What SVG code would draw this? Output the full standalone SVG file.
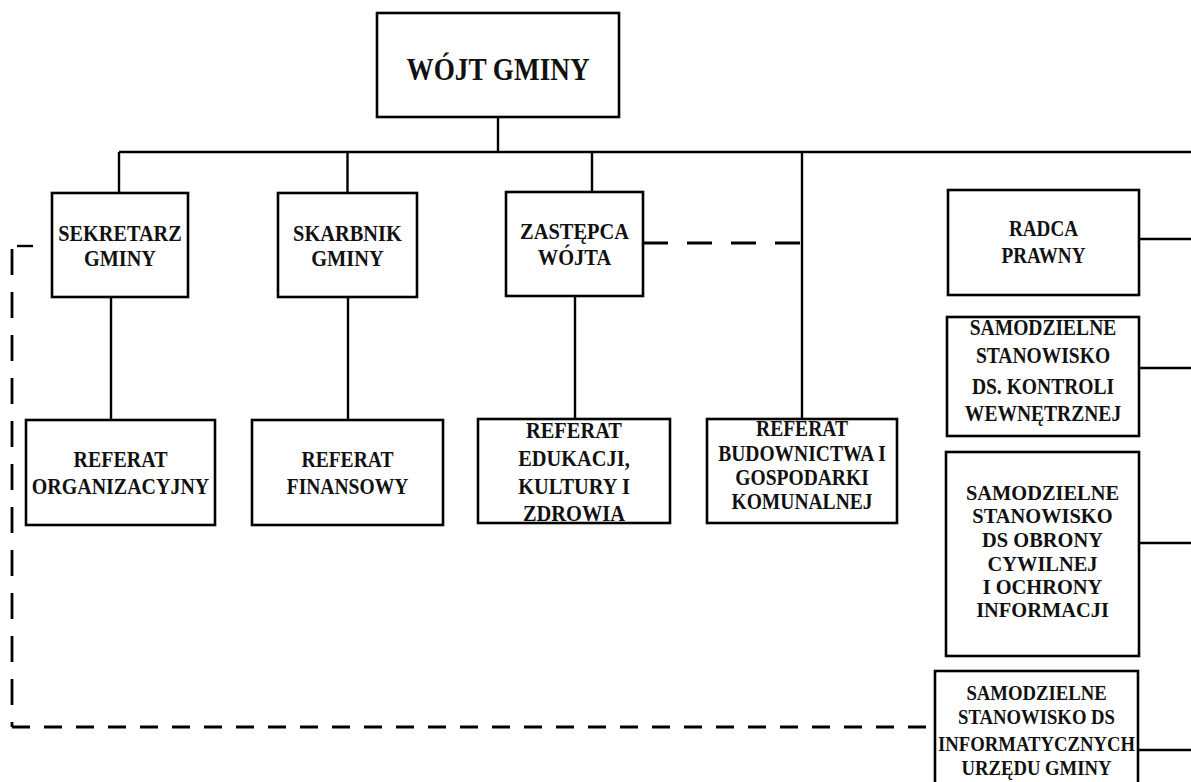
<svg xmlns="http://www.w3.org/2000/svg" width="1191" height="782" viewBox="0 0 1191 782">
<style>
.box{fill:#fff;stroke:#000;stroke-width:2.6}
.t{font-family:"Liberation Serif","Times New Roman",serif;font-weight:bold;text-anchor:middle;fill:#111}
.ln{stroke:#000;stroke-width:2.4;fill:none}
.dz{stroke:#000;stroke-width:2.8;fill:none;stroke-dasharray:25 19}
.dv{stroke:#000;stroke-width:2.8;fill:none;stroke-dasharray:26 17}
.dh{stroke:#000;stroke-width:2.8;fill:none;stroke-dasharray:18 14}
</style>
<rect width="1191" height="782" fill="#fff"/>
<g id="connectors">
<path class="ln" d="M498,117 V152 M119,152 H1191 M119,152 V193 M347.5,152 V193 M592,152 V192 M802,152 V419"/>
<path class="ln" d="M111,297 V420 M348,297 V420 M575,296 V419"/>
<path class="ln" d="M1139,239 H1191 M1139,368 H1191 M1139,543 H1191 M1138,750 H1191"/>
<path class="dz" d="M643,243 H802"/>
<path class="ln" d="M17,246 H33" stroke-width="2.8"/>
<path class="dv" d="M12,249 V727"/>
<path class="dh" d="M12,727 H935"/>
</g>
<g id="wojt">
<rect class="box" x="377" y="13" width="242" height="104" stroke-width="3"/>
<text class="t" transform="translate(498 0) scale(0.85 1)" font-size="32"><tspan x="0" y="80">WÓJT GMINY</tspan></text>
</g>
<g id="sekretarz">
<rect class="box" x="52" y="193" width="136" height="104"/>
<text class="t" transform="translate(120 0) scale(0.88 1)" font-size="23"><tspan x="0" y="241">SEKRETARZ</tspan><tspan x="0" y="266">GMINY</tspan></text>
</g>
<g id="skarbnik">
<rect class="box" x="278" y="193" width="139" height="104"/>
<text class="t" transform="translate(347.5 0) scale(0.85 1)" font-size="24"><tspan x="0" y="241">SKARBNIK</tspan><tspan x="0" y="266">GMINY</tspan></text>
</g>
<g id="zastepca">
<rect class="box" x="506" y="192" width="137" height="104"/>
<text class="t" transform="translate(574.5 0) scale(0.85 1)" font-size="24"><tspan x="0" y="239">ZASTĘPCA</tspan><tspan x="0" y="265">WÓJTA</tspan></text>
</g>
<g id="radca">
<rect class="box" x="948" y="190" width="191" height="105"/>
<text class="t" transform="translate(1043.5 0) scale(0.85 1)" font-size="22.5"><tspan x="0" y="236">RADCA</tspan><tspan x="0" y="263">PRAWNY</tspan></text>
</g>
<g id="kontrola">
<rect class="box" x="947" y="317" width="192" height="119"/>
<text class="t" transform="translate(1043 0) scale(0.85 1)" font-size="23"><tspan x="0" y="335">SAMODZIELNE</tspan><tspan x="0" y="363">STANOWISKO</tspan><tspan x="0" y="394">DS. KONTROLI</tspan><tspan x="0" y="421">WEWNĘTRZNEJ</tspan></text>
</g>
<g id="obrona">
<rect class="box" x="946" y="452" width="193" height="204"/>
<text class="t" transform="translate(1042.5 0) scale(0.95 1)" font-size="21.5"><tspan x="0" y="500">SAMODZIELNE</tspan><tspan x="0" y="523">STANOWISKO</tspan><tspan x="0" y="547">DS OBRONY</tspan><tspan x="0" y="571">CYWILNEJ</tspan><tspan x="0" y="594">I OCHRONY</tspan><tspan x="0" y="617">INFORMACJI</tspan></text>
</g>
<g id="informatyka">
<rect class="box" x="935" y="671" width="203" height="140" stroke-width="3"/>
<text class="t" transform="translate(1036.5 0) scale(0.85 1)" font-size="22"><tspan x="0" y="700">SAMODZIELNE</tspan><tspan x="0" y="724">STANOWISKO DS</tspan><tspan x="0" y="751">INFORMATYCZNYCH</tspan><tspan x="0" y="775">URZĘDU GMINY</tspan></text>
</g>
<g id="organizacyjny">
<rect class="box" x="26" y="420" width="189" height="105"/>
<text class="t" transform="translate(120.5 0) scale(0.85 1)" font-size="23.5"><tspan x="0" y="467">REFERAT</tspan><tspan x="0" y="494">ORGANIZACYJNY</tspan></text>
</g>
<g id="finansowy">
<rect class="box" x="252" y="420" width="191" height="105"/>
<text class="t" transform="translate(347.5 0) scale(0.85 1)" font-size="23"><tspan x="0" y="467">REFERAT</tspan><tspan x="0" y="494">FINANSOWY</tspan></text>
</g>
<g id="edukacja">
<rect class="box" x="478" y="419" width="192" height="104"/>
<text class="t" transform="translate(574 0) scale(0.85 1)" font-size="24"><tspan x="0" y="438">REFERAT</tspan><tspan x="0" y="466">EDUKACJI,</tspan><tspan x="0" y="494">KULTURY I</tspan><tspan x="0" y="521">ZDROWIA</tspan></text>
</g>
<g id="budownictwo">
<rect class="box" x="707" y="419" width="190" height="104"/>
<text class="t" transform="translate(802 0) scale(0.85 1)" font-size="23"><tspan x="0" y="436">REFERAT</tspan><tspan x="0" y="461">BUDOWNICTWA I</tspan><tspan x="0" y="485">GOSPODARKI</tspan><tspan x="0" y="509">KOMUNALNEJ</tspan></text>
</g>
</svg>
